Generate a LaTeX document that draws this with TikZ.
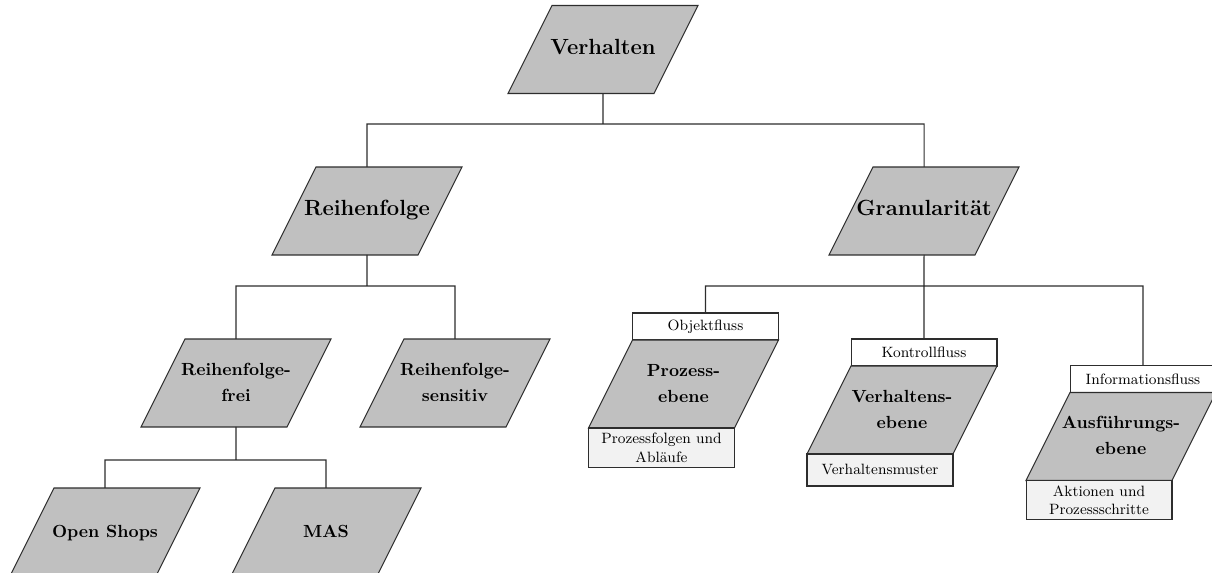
\documentclass[tikz,border=0pt]{standalone}
\usepackage{fontspec}
\usetikzlibrary{positioning, shapes.geometric}

\definecolor{boxgray}{RGB}{192,192,192}
\definecolor{notegray}{RGB}{242,242,242}
\definecolor{linegray}{RGB}{45,45,45}

\newcommand{\ebenentext}[1]{\vbox to 1.76cm{\vss
    \hbox to 2.04cm{\hss\begin{tabular}{@{}c@{}}#1\end{tabular}\hss}\vss}}

\begin{document}
\begin{tikzpicture}[
    x=0.02cm,
    y=-0.02cm,
    ebene/.style={trapezium, trapezium left angle=63.43, trapezium right angle=116.57,
        draw=linegray, fill=boxgray, line width=0.6pt,
        inner sep=0pt, outer sep=0pt},
    haupt/.style={ebene, font=\bfseries\fontsize{12.5}{14}\selectfont},
    unter/.style={ebene, font=\bfseries\fontsize{10}{15}\selectfont},
    fluss/.style={rectangle, draw=linegray, fill=white, line width=0.6pt,
        minimum width=2.92cm, minimum height=0.54cm, inner sep=0pt, outer sep=0pt,
        align=center, font=\fontsize{8.5}{10.5}\selectfont},
    notiz/.style={fluss, fill=notegray},
    verbindung/.style={draw=linegray, line width=0.6pt},
]

    \useasboundingbox (0,0) rectangle (1212,573);

    \node[haupt] (verhalten)     at (603,49.5) {\ebenentext{Verhalten}};
    \node[haupt] (reihenfolge)   at (367,211)  {\ebenentext{Reihenfolge}};
    \node[haupt] (granularitaet) at (924,211)  {\ebenentext{Granularität}};

    \node[unter] (frei)      at (236,383) {\ebenentext{Reihenfolge-\\frei}};
    \node[unter] (sensitiv)  at (455,383) {\ebenentext{Reihenfolge-\\sensitiv}};
    \node[unter] (openshops) at (105,532) {\ebenentext{Open Shops}};
    \node[unter] (mas)       at (326,532) {\ebenentext{MAS}};

    \node[fluss] (objekt) at (705.5,326.5) {Objektfluss};
    \node[unter, anchor=top right corner] (prozess) at (objekt.south east)
        {\ebenentext{Prozess-\\ebene}};
    \node[notiz, minimum height=0.8cm, anchor=north west] (prozessnotiz)
        at (prozess.bottom left corner) {Prozessfolgen und\\Abläufe};

    \node[fluss] (kontroll) at (924,352.5) {Kontrollfluss};
    \node[unter, anchor=top right corner] (verhaltensebene) at (kontroll.south east)
        {\ebenentext{Verhaltens-\\ebene}};
    \node[notiz, minimum height=0.64cm, anchor=north west] (verhaltensnotiz)
        at (verhaltensebene.bottom left corner) {Verhaltensmuster};

    \node[fluss] (information) at (1143,379) {Informationsfluss};
    \node[unter, anchor=top right corner] (ausfuehrung) at (information.south east)
        {\ebenentext{Ausführungs-\\ebene}};
    \node[notiz, minimum height=0.78cm, anchor=north west] (ausfuehrungsnotiz)
        at (ausfuehrung.bottom left corner) {Aktionen und\\Prozessschritte};

    \draw[verbindung]
        (verhalten.south)     -- ++(0,30)
        (reihenfolge.north)   -- ++(0,-43) -| (granularitaet.north)
        (reihenfolge.south)   -- ++(0,31)
        (frei.north)          -- ++(0,-53) -| (sensitiv.north)
        (frei.south)          -- ++(0,33)
        (openshops.north)     -- ++(0,-28) -| (mas.north)
        (granularitaet.south) -- (kontroll.north)
        (objekt.north)        -- ++(0,-27) -| (information.north)
    ;
\end{tikzpicture}
\end{document}
